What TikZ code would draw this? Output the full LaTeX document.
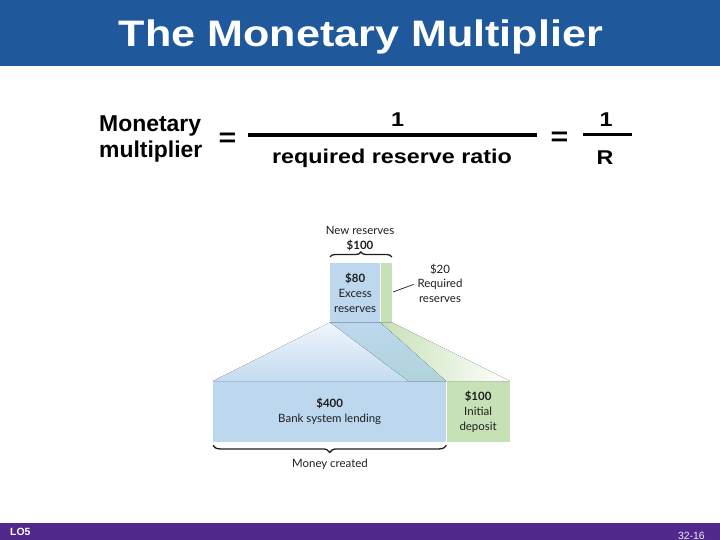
\documentclass[tikz,border=0pt]{standalone}
\usepackage{fontspec}
\setmainfont{Liberation Sans}
\newfontfamily\titlefont[FakeStretch=1.17]{Liberation Sans}
\newfontfamily\eqfont[FakeStretch=1.17]{Liberation Sans}
\newfontfamily\figfont{Lato}
\usetikzlibrary{positioning,decorations.pathreplacing}
\definecolor{titleblue}{RGB}{31,89,155}
\definecolor{footpurple}{RGB}{82,40,140}
\definecolor{resblue}{RGB}{189,215,238}
\definecolor{resgreen}{RGB}{199,225,183}
\definecolor{fanpale}{RGB}{240,246,252}
\definecolor{fanteal}{RGB}{176,212,218}
\definecolor{textgray}{RGB}{30,30,30}
\tikzset{
  lbltext/.style={font=\fontsize{23}{26}\selectfont\bfseries, text=black, inner sep=0pt},
  eqtext/.style={font=\eqfont\fontsize{20}{24}\selectfont\bfseries, text=black, inner sep=0pt},
  eqsign/.style={font=\eqfont\fontsize{26}{30}\selectfont\bfseries, text=black, inner sep=0pt},
  fracbar/.style={line width=3.2bp, draw=black},
  figbox/.style={fill=#1, inner sep=0pt, anchor=north west, align=center, text=textgray,
    font=\figfont\fontsize{11.5}{15}\selectfont},
  figtext/.style={inner sep=0pt, align=center, text=textgray,
    font=\figfont\fontsize{11.5}{14.5}\selectfont},
  brace/.style={decorate, decoration={brace, amplitude=#1}, draw=textgray, line width=1.3bp},
  leader/.style={draw=textgray, line width=0.7bp, shorten >=4bp}
}

\begin{document}
\begin{tikzpicture}[x=1bp, y=-1bp]
  \useasboundingbox (0,0) rectangle (720,540);
  \fill[titleblue] (0,0) rectangle (720,66);
  \fill[footpurple] (0,523) rectangle (720,540);
  \node[anchor=base, text=white, font=\titlefont\fontsize{37}{40}\selectfont\bfseries] (title) at (361,47) {The Monetary Multiplier};
  \node[anchor=base west, text=white, inner sep=0pt, font=\fontsize{10.5}{12}\selectfont\bfseries] (lo) at (10,535) {LO5};
  \node[anchor=base east, text=white!85!gray, inner sep=0pt, font=\fontsize{10.5}{12}\selectfont] (slide) at (705,539) {32-16};

  \node[lbltext, anchor=base west] (mon) at (99,132) {Monetary};
  \node[lbltext, anchor=base west] (mult) at (99,158) {multiplier};
  \node[eqsign] (eqa) at (227.5,139.5) {=};
  \coordinate (bara) at (248,135);
  \coordinate (barb) at (537,135);
  \draw[fracbar] (bara) -- (barb);
  \node[eqtext] (numa) at (397.5,120) {1};
  \node[eqtext, anchor=base] (dena) at (392,164) {required reserve ratio};
  \node[eqsign] (eqb) at (559.5,138.5) {=};
  \coordinate (barc) at (583,134.5);
  \coordinate (bard) at (632,134.5);
  \draw[fracbar] (barc) -- (bard);
  \node[eqtext] (numb) at (606,120) {1};
  \node[eqtext, anchor=base] (denb) at (605,165) {R};

  \node[figbox=resblue, minimum width=50bp, minimum height=59bp] (excess) at (330,263) {\textbf{\$80}\\Excess\\reserves};
  \node[figbox=resgreen, minimum width=11bp, minimum height=59bp, right=0pt of excess] (reqstrip) {};
  \node[figbox=resblue, minimum width=233bp, minimum height=61bp] (lending) at (213,381) {\textbf{\$400}\\Bank system lending};
  \node[figbox=resgreen, minimum width=63bp, minimum height=61bp, right=0pt of lending] (deposit) {\textbf{\$100}\\Initial\\deposit};

  \fill[top color=fanpale, bottom color=resblue!90] (excess.south west) -- (excess.south east) -- (lending.north east) -- (lending.north west) -- cycle;
  \fill[top color=resblue, bottom color=fanteal] (excess.south west) -- (excess.south east) -- (lending.north east) -- ([xshift=-38bp]lending.north east) -- cycle;
  \fill[left color=resgreen, middle color=resgreen, right color=white] (reqstrip.south west) -- (reqstrip.south east) -- (deposit.north east) -- (deposit.north west) -- cycle;

  \node[figtext, anchor=base] (newres) at (360,235) {New reserves};
  \node[figtext, anchor=base] (newamt) at (360,250) {\textbf{\$100}};
  \draw[brace=5bp] ([yshift=6bp]excess.north west) -- ([yshift=6bp]reqstrip.north east);
  \node[figtext] (reqres) at (440,283) {\$20\\Required\\reserves};
  \coordinate (leada) at (393,292);
  \draw[leader] (leada) -- (reqres.west);
  \draw[brace=7bp] ([yshift=-3bp]lending.south east) -- ([yshift=-3bp]lending.south west);
  \node[figtext, anchor=base] (created) at (330,467) {Money created};
\end{tikzpicture}
\end{document}
